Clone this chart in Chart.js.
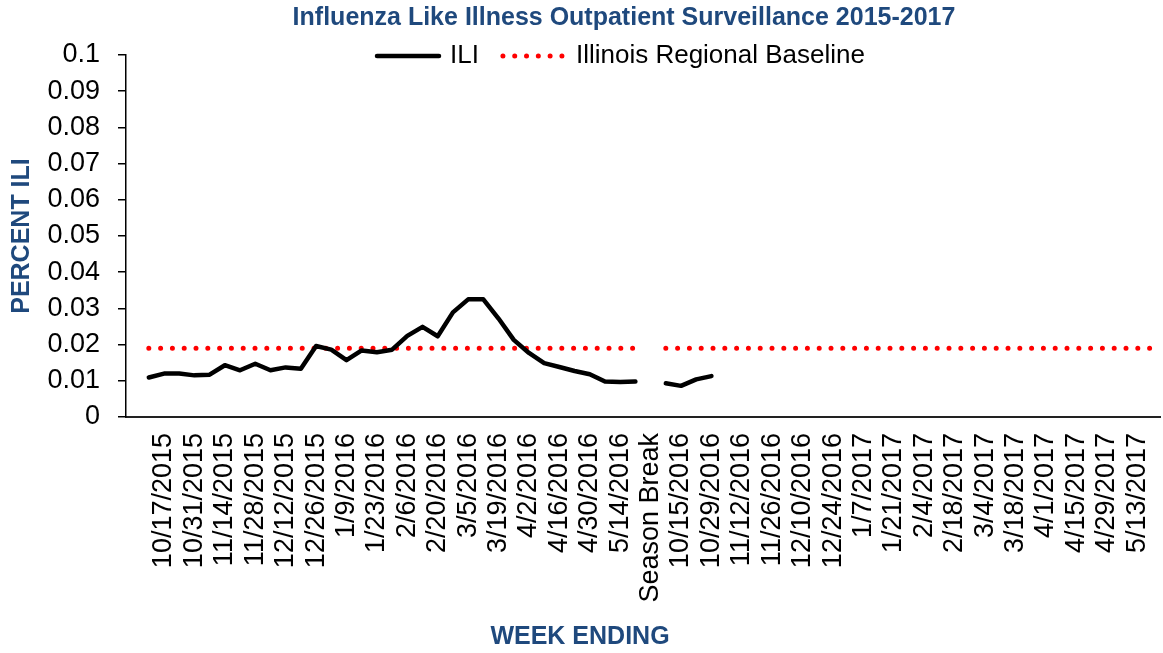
<!DOCTYPE html>
<html>
<head>
<meta charset="utf-8">
<title>Influenza Like Illness Outpatient Surveillance 2015-2017</title>
<script src="https://cdn.jsdelivr.net/npm/chart.js@4.4.1/dist/chart.umd.min.js"></script>
<style>
  html, body { margin: 0; padding: 0; background: #fff; }
</style>
</head>
<body>
<canvas id="grafili" width="1163" height="653"></canvas>
<script>
// semanas (la primera categoria va vacia, igual que en la hoja)
var weeks = ["",
  "10/10/2015", "10/17/2015", "10/24/2015", "10/31/2015", "11/7/2015", "11/14/2015", "11/21/2015", "11/28/2015",
  "12/5/2015", "12/12/2015", "12/19/2015", "12/26/2015", "1/2/2016", "1/9/2016", "1/16/2016", "1/23/2016",
  "1/30/2016", "2/6/2016", "2/13/2016", "2/20/2016", "2/27/2016", "3/5/2016", "3/12/2016", "3/19/2016",
  "3/26/2016", "4/2/2016", "4/9/2016", "4/16/2016", "4/23/2016", "4/30/2016", "5/7/2016", "5/14/2016", "5/21/2016",
  "Season Break",
  "10/8/2016", "10/15/2016", "10/22/2016", "10/29/2016", "11/5/2016", "11/12/2016", "11/19/2016", "11/26/2016",
  "12/3/2016", "12/10/2016", "12/17/2016", "12/24/2016", "12/31/2016", "1/7/2017", "1/14/2017", "1/21/2017",
  "1/28/2017", "2/4/2017", "2/11/2017", "2/18/2017", "2/25/2017", "3/4/2017", "3/11/2017", "3/18/2017",
  "3/25/2017", "4/1/2017", "4/8/2017", "4/15/2017", "4/22/2017", "4/29/2017", "5/6/2017", "5/13/2017", "5/20/2017"];

var ili = [null,
  0.0109, 0.0120, 0.0120, 0.0115, 0.0117, 0.0143, 0.0129, 0.0147,
  0.0129, 0.0137, 0.0133, 0.0196, 0.0186, 0.0157, 0.0184, 0.0179,
  0.0186, 0.0224, 0.0249, 0.0223, 0.0289, 0.0325, 0.0325, 0.0272,
  0.0213, 0.0177, 0.0149, 0.0138, 0.0127, 0.0118, 0.0098, 0.0097, 0.0098,
  null,
  0.0093, 0.0086, 0.0104, 0.0113, null, null, null, null,
  null, null, null, null, null, null, null, null,
  null, null, null, null, null, null, null, null,
  null, null, null, null, null, null, null, null, null];

var baseline = [null,
  0.019, 0.019, 0.019, 0.019, 0.019, 0.019, 0.019, 0.019,
  0.019, 0.019, 0.019, 0.019, 0.019, 0.019, 0.019, 0.019,
  0.019, 0.019, 0.019, 0.019, 0.019, 0.019, 0.019, 0.019,
  0.019, 0.019, 0.019, 0.019, 0.019, 0.019, 0.019, 0.019, 0.019,
  null,
  0.019, 0.019, 0.019, 0.019, 0.019, 0.019, 0.019, 0.019,
  0.019, 0.019, 0.019, 0.019, 0.019, 0.019, 0.019, 0.019,
  0.019, 0.019, 0.019, 0.019, 0.019, 0.019, 0.019, 0.019,
  0.019, 0.019, 0.019, 0.019, 0.019, 0.019, 0.019, 0.019, 0.019];

var yMin = 0, yMax = 0.1, yStep = 0.01;
var labelEvery = 2;

var titulo = "Influenza Like Illness Outpatient Surveillance 2015-2017";
var fuente = "'Liberation Sans', Arial, sans-serif";
var azul = "#1F497D";

// titulo y leyenda arriba, la leyenda se monta sobre el area del grafico (como en Excel)
var cabecera = {
  id: "cabecera",
  afterDraw: function(chart) {
    var ctx = chart.ctx;
    var sets = chart.data.datasets;
    ctx.save();
    ctx.textBaseline = "middle";

    ctx.font = "bold 25px " + fuente;
    ctx.fillStyle = azul;
    ctx.textAlign = "center";
    ctx.fillText(titulo, 624, 18);

    var muestra = 64, hueco = 11, espacio = 22;
    ctx.font = "26px " + fuente;
    ctx.textAlign = "left";
    var total = 0;
    sets.forEach(function(ds){ total += muestra + hueco + ctx.measureText(ds.label).width; });
    total += espacio * (sets.length - 1);
    var x = 620 - total / 2, y = 56;
    sets.forEach(function(ds){
      ctx.beginPath();
      ctx.strokeStyle = ds.borderColor;
      ctx.lineWidth = ds.borderWidth;
      ctx.lineCap = ds.borderCapStyle || "butt";
      ctx.setLineDash(ds.borderDash || []);
      ctx.moveTo(x + 2, y);
      ctx.lineTo(x + muestra, y);
      ctx.stroke();
      ctx.setLineDash([]);
      x += muestra + hueco;
      ctx.fillStyle = "#000";
      ctx.fillText(ds.label, x, y);
      x += ctx.measureText(ds.label).width + espacio;
    });
    ctx.restore();
  }
};

new Chart(document.getElementById("grafili"), {
  type: "line",
  data: {
    labels: weeks,
    datasets: [
      {
        label: "ILI",
        data: ili,
        borderColor: "#000000",
        backgroundColor: "#000000",
        borderWidth: 4.5,
        borderJoinStyle: "round",
        borderCapStyle: "round",
        pointRadius: 0,
        tension: 0
      },
      {
        label: "Illinois Regional Baseline",
        data: baseline,
        borderColor: "#ff0000",
        backgroundColor: "#ff0000",
        borderWidth: 5,
        borderDash: [0, 11.8],
        borderCapStyle: "round",
        pointRadius: 0,
        tension: 0
      }
    ]
  },
  options: {
    responsive: false,
    animation: false,
    layout: { padding: { top: 55, right: 3 } },
    plugins: {
      legend: { display: false },
      tooltip: { enabled: false },
      title: { display: false },
      subtitle: {
        display: true,
        position: "bottom",
        text: "WEEK ENDING",
        color: azul,
        font: { family: fuente, size: 25, weight: "bold" },
        padding: { top: 0, bottom: 1 }
      }
    },
    scales: {
      x: {
        offset: true,
        grid: { display: false, drawTicks: false },
        border: { display: true, color: "#222222", width: 2 },
        ticks: {
          autoSkip: false,
          minRotation: 90,
          maxRotation: 90,
          padding: 16,
          color: "#000",
          font: { family: fuente, size: 27 },
          callback: function(v, i) { return i % labelEvery === 0 ? this.getLabelForValue(v) : ""; }
        },
        afterFit: function(scale) {
          scale.height = 205;
          scale.paddingLeft = 0;
          scale.paddingRight = 0;
        }
      },
      y: {
        min: yMin,
        max: yMax,
        ticks: {
          stepSize: yStep,
          padding: 18,
          color: "#000",
          font: { family: fuente, size: 27 },
          callback: function(v) { return String(+v.toFixed(2)); }
        },
        grid: { drawOnChartArea: false, drawTicks: true, tickLength: 8, color: "#000", lineWidth: 1.5 },
        border: { color: "#000", width: 1.5 },
        title: {
          display: true,
          text: "PERCENT ILI",
          color: azul,
          font: { family: fuente, size: 25, weight: "bold" },
          padding: { top: 7, bottom: 0 }
        },
        afterFit: function(scale) { scale.width = 126; }
      }
    }
  },
  plugins: [cabecera]
});
</script>
</body>
</html>
